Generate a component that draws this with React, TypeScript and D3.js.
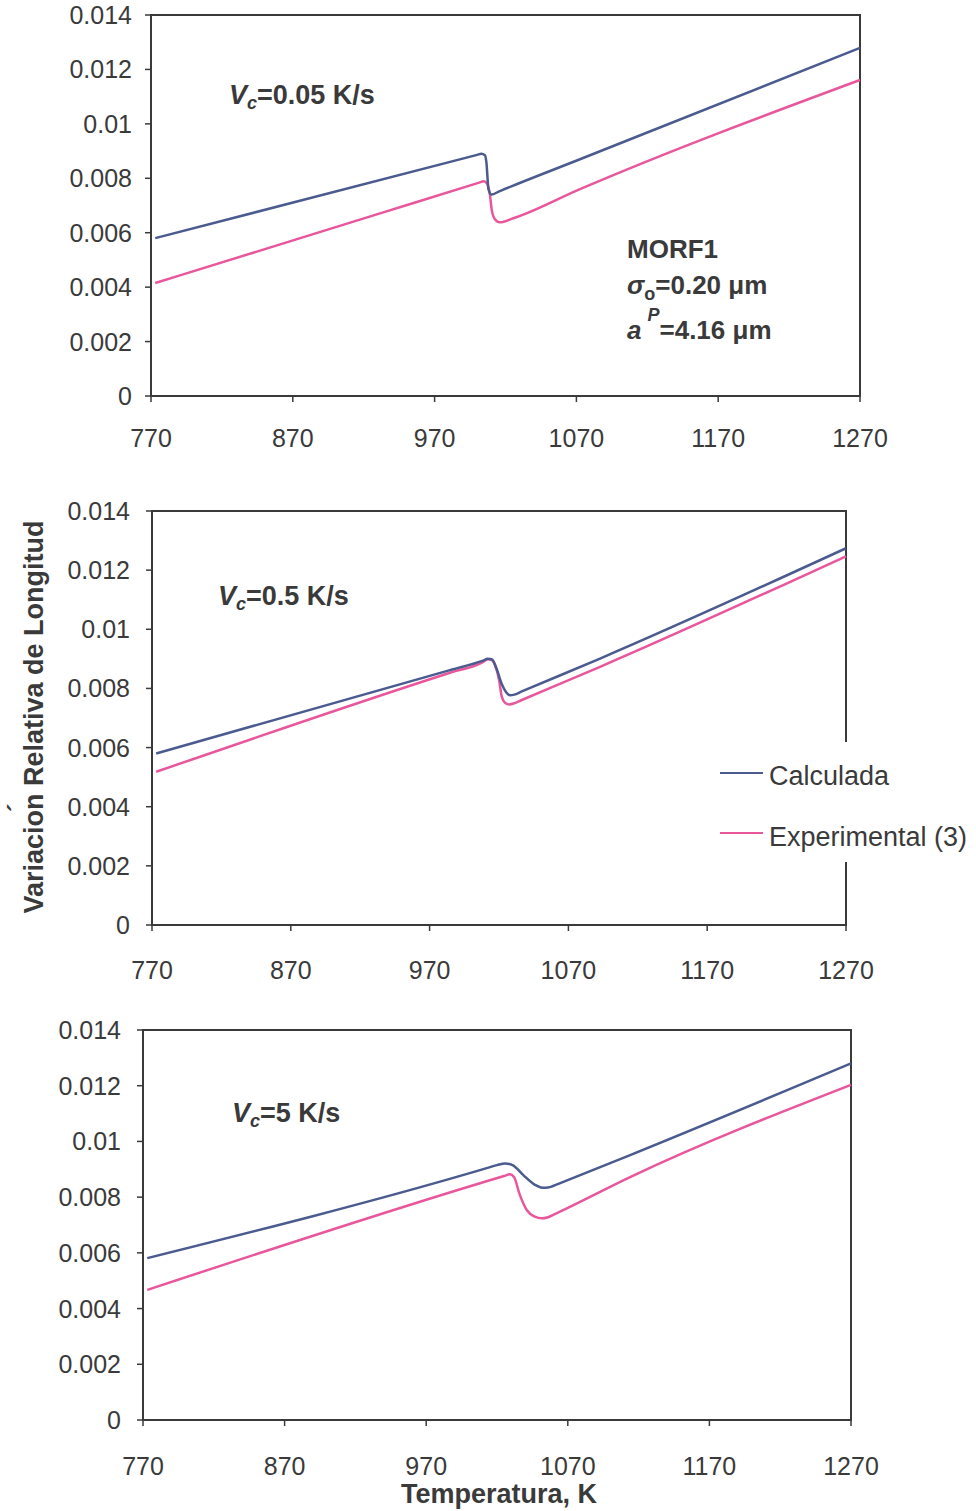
import React from "react";
import * as d3 from "d3";

// ---- data ----
const xTicks = [770, 870, 970, 1070, 1170, 1270];
const yTicks = [0, 0.002, 0.004, 0.006, 0.008, 0.01, 0.012, 0.014];
const yTickLabels = ["0", "0.002", "0.004", "0.006", "0.008", "0.01", "0.012", "0.014"];

// Panel 1: Vc = 0.05 K/s
const p1CalcT = [773, 1000, 1003, 1005.5, 1006.5, 1008, 1010, 1016, 1072.5, 1270];
const p1CalcV = [0.0058, 0.00886, 0.0089, 0.00885, 0.0086, 0.0076, 0.0074, 0.00753, 0.0087, 0.01279];
const p1ExpT = [773, 931.5, 1002, 1004.5, 1006.5, 1009, 1010.3, 1012.6, 1016, 1025.5, 1072.5, 1270];
const p1ExpV = [0.00415, 0.00671, 0.00785, 0.00789, 0.00784, 0.0074, 0.00684, 0.00649, 0.00638, 0.00653, 0.0076, 0.01161];

// Panel 2: Vc = 0.5 K/s
const p2CalcT = [773, 984.7, 1008, 1012, 1015, 1018, 1022, 1025, 1028, 1031, 1036, 1092.8, 1270];
const p2CalcV = [0.0058, 0.00862, 0.00893, 0.009, 0.00898, 0.0087, 0.00815, 0.00788, 0.00777, 0.00779, 0.00789, 0.00901, 0.01274];
const p2ExpT = [773, 984.7, 1008, 1012, 1014.5, 1017, 1020, 1022, 1024.5, 1027.5, 1031, 1036, 1092.8, 1270];
const p2ExpV = [0.00518, 0.00853, 0.00888, 0.00899, 0.00897, 0.0088, 0.0083, 0.00772, 0.00751, 0.00746, 0.0075, 0.0076, 0.00873, 0.01247];

// Panel 3: Vc = 5 K/s
const p3CalcT = [773, 1008, 1020, 1025.7, 1031, 1038.6, 1046.8, 1051, 1054, 1058, 1062, 1114, 1270];
const p3CalcV = [0.00581, 0.00897, 0.00915, 0.00921, 0.00915, 0.00879, 0.00844, 0.00835, 0.00834, 0.00837, 0.00845, 0.00951, 0.0128];
const p3ExpT = [773, 1008, 1025, 1029, 1032, 1036, 1041, 1046.8, 1051.5, 1056, 1062, 1114, 1270];
const p3ExpV = [0.00467, 0.0085, 0.00876, 0.00882, 0.00872, 0.0081, 0.00754, 0.0073, 0.00724, 0.00728, 0.00742, 0.00872, 0.01203];

const seriesNames = ["Calculada", "Experimental (3)"];
const panelRates = ["0.05", "0.5", "5"];

// ---- styling ----
const BLUE = "#4b5b8f";
const PINK = "#e8579b";
const AXIS = "#3a3a3a";
const TEXT = "#3a3a3a";
const FONT = "Liberation Sans, Arial, sans-serif";

type PanelProps = {
  left: number; right: number; top: number; bottom: number;
  calcT: number[]; calcV: number[]; expT: number[]; expV: number[];
  rate: string; rateX: number; rateY: number;
  xLabelDy: number; yLabelGap: number;
};

function Panel(p: PanelProps) {
  const x = d3.scaleLinear().domain([770, 1270]).range([p.left, p.right]);
  const y = d3.scaleLinear().domain([0, 0.014]).range([p.bottom, p.top]);
  const line = d3.line<[number, number]>()
    .x((d) => x(d[0]))
    .y((d) => y(d[1]))
    .curve(d3.curveMonotoneX);
  const calc = line(p.calcT.map((t, i) => [t, p.calcV[i]]) as [number, number][]) || "";
  const exp = line(p.expT.map((t, i) => [t, p.expV[i]]) as [number, number][]) || "";
  return (
    <g>
      <rect x={p.left} y={p.top} width={p.right - p.left} height={p.bottom - p.top}
        fill="none" stroke={AXIS} strokeWidth={2} />
      {xTicks.map((t) => (
        <g key={"x" + t}>
          <line x1={x(t)} x2={x(t)} y1={p.bottom} y2={p.bottom + 6} stroke={AXIS} strokeWidth={1.5} />
          <text x={x(t)} y={p.bottom + p.xLabelDy} textAnchor="middle" fontSize={25}
            fontFamily={FONT} fill={TEXT}>{t}</text>
        </g>
      ))}
      {yTicks.map((v, i) => (
        <g key={"y" + i}>
          <line x1={p.left - 6} x2={p.left} y1={y(v)} y2={y(v)} stroke={AXIS} strokeWidth={1.5} />
          <text x={p.left - p.yLabelGap} y={y(v) + 9} textAnchor="end" fontSize={25}
            fontFamily={FONT} fill={TEXT}>{yTickLabels[i]}</text>
        </g>
      ))}
      <path d={exp} fill="none" stroke={PINK} strokeWidth={2.5} strokeLinejoin="round" />
      <path d={calc} fill="none" stroke={BLUE} strokeWidth={2.5} strokeLinejoin="round" />
      <text x={p.rateX} y={p.rateY} fontSize={27} fontWeight="bold" fontFamily={FONT} fill={TEXT}>
        <tspan fontStyle="italic">V</tspan>
        <tspan fontStyle="italic" fontSize={18} dy={5}>c</tspan>
        <tspan dy={-5}>{"=" + p.rate + " K/s"}</tspan>
      </text>
    </g>
  );
}

export default function App() {
  return (
    <svg width={976} height={1511} style={{ position: "absolute", left: 0, top: 0, background: "#fff" }}>
      <rect x={0} y={0} width={976} height={1511} fill="#fff" />
      <Panel left={151} right={860} top={15} bottom={396}
        calcT={p1CalcT} calcV={p1CalcV} expT={p1ExpT} expV={p1ExpV}
        rate={panelRates[0]} rateX={229} rateY={104} xLabelDy={51} yLabelGap={19} />
      <Panel left={152} right={846} top={511} bottom={925}
        calcT={p2CalcT} calcV={p2CalcV} expT={p2ExpT} expV={p2ExpV}
        rate={panelRates[1]} rateX={218} rateY={605} xLabelDy={54} yLabelGap={22} />
      <Panel left={143} right={851} top={1030} bottom={1420}
        calcT={p3CalcT} calcV={p3CalcV} expT={p3ExpT} expV={p3ExpV}
        rate={panelRates[2]} rateX={232} rateY={1122} xLabelDy={55} yLabelGap={22} />

      {/* MORF1 annotation */}
      <g fontFamily={FONT} fontWeight="bold" fontSize={26} fill={TEXT}>
        <text x={627} y={258}>MORF1</text>
        <text x={627} y={294}>
          <tspan fontStyle="italic">σ</tspan>
          <tspan fontSize={18} dy={6}>o</tspan>
          <tspan dy={-6}>=0.20 μm</tspan>
        </text>
        <text x={627} y={339}>
          <tspan fontStyle="italic">a</tspan>
          <tspan fontSize={18} dy={-18} fontStyle="italic" dx={6}>P</tspan>
          <tspan dy={18}>=4.16 μm</tspan>
        </text>
      </g>

      {/* legend */}
      <rect x={714} y={742} width={262} height={120} fill="#fff" />
      <line x1={720} x2={763} y1={773} y2={773} stroke={BLUE} strokeWidth={2} />
      <text x={769} y={785} fontSize={27} fontFamily={FONT} fill={TEXT}>{seriesNames[0]}</text>
      <line x1={720} x2={763} y1={833} y2={833} stroke={PINK} strokeWidth={2} />
      <text x={769} y={846} fontSize={27} fontFamily={FONT} fill={TEXT}>{seriesNames[1]}</text>

      {/* axis titles */}
      <text transform="translate(43,717) rotate(-90)" textAnchor="middle" fontSize={27}
        fontWeight="bold" fontFamily={FONT} fill={TEXT}>Variacion Relativa de Longitud</text>
      <text x={16} y={822} fontSize={26} fontWeight="bold" fontFamily={FONT} fill={TEXT}
        transform="rotate(-90,16,812)">´</text>
      <text x={499} y={1503} textAnchor="middle" fontSize={27} fontWeight="bold"
        fontFamily={FONT} fill={TEXT}>Temperatura, K</text>
    </svg>
  );
}
